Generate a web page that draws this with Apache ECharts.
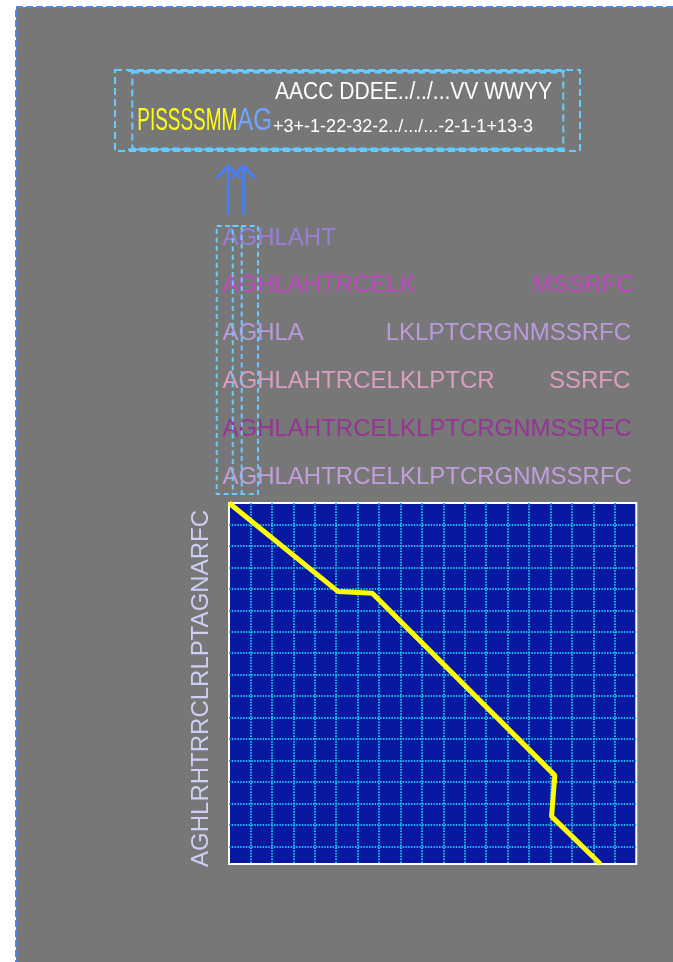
<!DOCTYPE html>
<html><head><meta charset="utf-8">
<script src="https://cdn.jsdelivr.net/npm/echarts@6/dist/echarts.min.js"></script>
<style>html,body{margin:0;padding:0;background:#fff;}#c{width:673px;height:962px;}</style>
</head><body><div id="c"></div>
<script>
// ---- data ----
const seqX = 'AGHLAHTRCELKLPTCRGNMSSRFC';          // x-axis sequence (25 residues)
const seqY = 'AGHLRHTRRCLRLPTAGNARFC';             // y-axis sequence (22 residues)
const alignedRows = [
  'AGHLAHT------------------',
  'AGHLAHTRCELK-------MSSRFC',
  'AGHLA-----LKLPTCRGNMSSRFC',
  'AGHLAHTRCELKLPTCR---SSRFC',
  'AGHLAHTRCELKLPTCRGNMSSRFC',
  'AGHLAHTRCELKLPTCRGNMSSRFC'
];
const rowColors = ['#a57ef2', '#d63ad6', '#caa2f2', '#f4a6d2', '#a0229e', '#d4a8f6'];
const pathX = [0, 6.7, 8.8, 20.0, 19.8, 22.8];
const pathY = [0, 5.4, 5.5, 16.6, 19.1, 22.0];
const headerTop = 'AACC DDEE../../...VV WWYY';
const headerNames = 'PISSSSMM';
const headerCols = 'AG';
const headerScores = '+3+-1-22-32-2../.../...-2-1-1+13-3';

// ---- helpers ----
const FONT = '"Liberation Sans", Arial, sans-serif';
const mctx = document.createElement('canvas').getContext('2d');
function fit(text, size, target) {
  mctx.font = size + 'px ' + FONT;
  return target / mctx.measureText(text).width;
}
function txt(text, x, y, size, color, target) {
  return {
    type: 'text', x: x, y: y, scaleX: fit(text, size, target), z: 50,
    style: { text: text, fontSize: size, fontFamily: FONT, fill: color,
      align: 'left', verticalAlign: 'middle', textAlign: 'left', textVerticalAlign: 'middle' }
  };
}
function arrow(x) {
  return [
    { type: 'line', z: 50, shape: { x1: x, y1: 214, x2: x, y2: 167 },
      style: { stroke: '#4a7ef5', lineWidth: 3 } },
    { type: 'polyline', z: 50, shape: { points: [[x - 12, 178], [x, 166], [x + 12, 178]] },
      style: { stroke: '#4a7ef5', lineWidth: 3, fill: null } }
  ];
}

// runs of residues (contiguous, non-gap) per row
const runData = [];
alignedRows.forEach(function (row, k) {
  const re = /[^-]+/g; let m;
  while ((m = re.exec(row)) !== null) {
    runData.push({ value: [m.index, k + 0.5], name: m[0],
      label: { color: rowColors[k] } });
  }
});

const cyan = '#66ccff';
const graphics = [
  { type: 'rect', z: -100, shape: { x: 16, y: 7, width: 720, height: 1000 },
    style: { fill: '#777777', stroke: '#4a86f7', lineWidth: 2, lineDash: [7, 3] } },
  { type: 'rect', z: 40, shape: { x: 115, y: 70, width: 465, height: 81 },
    style: { fill: null, stroke: cyan, lineWidth: 2, lineDash: [7, 4] } },
  { type: 'rect', z: 40, shape: { x: 132.3, y: 72.5, width: 431, height: 76 },
    style: { fill: null, stroke: cyan, lineWidth: 2, lineDash: [7, 4] } },
  { type: 'line', z: 41, shape: { x1: 128, y1: 71, x2: 565, y2: 71 },
    style: { stroke: cyan, lineWidth: 2 } },
  { type: 'line', z: 41, shape: { x1: 128, y1: 149.5, x2: 565, y2: 149.5 },
    style: { stroke: cyan, lineWidth: 2 } },
  { type: 'rect', z: 40, shape: { x: 216.7, y: 226, width: 25, height: 268 },
    style: { fill: null, stroke: cyan, lineWidth: 2, lineDash: [5, 3.5] } },
  { type: 'rect', z: 40, shape: { x: 232.7, y: 226, width: 25.3, height: 268 },
    style: { fill: null, stroke: cyan, lineWidth: 2, lineDash: [5, 3.5] } },
  txt(headerTop, 275, 93, 23, '#ffffff', 277),
  txt(headerNames, 137.3, 121.7, 31.5, '#ffff14', 100),
  txt(headerCols, 237, 121.7, 31.5, '#70a6ff', 35),
  txt(headerScores, 273, 126.3, 19, '#ffffff', 260)
].concat(arrow(228.3), arrow(243.3));

const gridLine = { show: true, showMinLine: false, showMaxLine: false,
  lineStyle: { color: '#1ab8ea', width: 2, type: [1.5, 1.3] } };
const hidden = { axisLine: { show: false }, axisTick: { show: false }, axisLabel: { show: false } };

const option = {
  backgroundColor: '#ffffff',
  animation: false,
  grid: [
    { left: 229, top: 503, width: 407.3, height: 361, show: true,
      backgroundColor: '#0818a0', borderColor: '#ffffff', borderWidth: 2 },
    { left: 223, top: 214.5, width: 408, height: 287.4 }
  ],
  xAxis: [
    Object.assign({ gridIndex: 0, type: 'value', min: 0, max: seqX.length, splitLine: { show: false } }, hidden),
    Object.assign({ gridIndex: 0, type: 'value', min: 0, max: 19, interval: 1, splitLine: gridLine }, hidden),
    Object.assign({ gridIndex: 1, type: 'value', min: 0, max: seqX.length, splitLine: { show: false } }, hidden)
  ],
  yAxis: [
    Object.assign({ gridIndex: 0, type: 'value', min: 0, max: seqY.length, inverse: true,
      splitLine: { show: false }, name: seqY, nameLocation: 'middle', nameRotate: 90, nameGap: 16,
      nameTextStyle: { color: '#cfcff5', fontSize: 24, fontFamily: FONT, padding: [0, 10, 0, 0] } }, hidden),
    Object.assign({ gridIndex: 0, type: 'value', min: 0, max: 16.82, interval: 1, inverse: true,
      splitLine: gridLine }, hidden),
    Object.assign({ gridIndex: 1, type: 'value', min: 0, max: alignedRows.length, inverse: true,
      splitLine: { show: false } }, hidden)
  ],
  graphic: { elements: graphics },
  series: [
    { type: 'line', xAxisIndex: 0, yAxisIndex: 0, z: 10, symbol: 'none',
      lineStyle: { color: '#ffff00', width: 5 },
      data: pathX.map(function (x, i) { return [x, pathY[i]]; }) },
    { type: 'scatter', xAxisIndex: 2, yAxisIndex: 2, symbolSize: 1,
      itemStyle: { color: 'rgba(0,0,0,0)' },
      label: { show: true, position: [0, 0], align: 'left', verticalAlign: 'middle',
        fontSize: 24, fontFamily: FONT, formatter: function (p) { return p.name; } },
      data: runData }
  ]
};
const chart = echarts.init(document.getElementById('c'), null, { renderer: 'canvas' });
chart.setOption(option);
</script></body></html>
